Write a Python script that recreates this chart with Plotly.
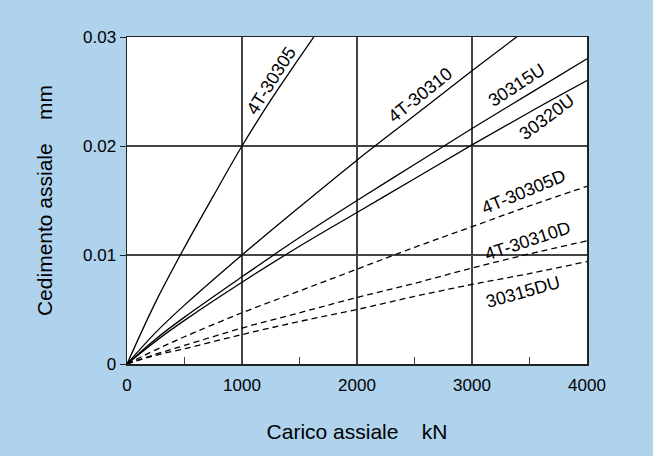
import plotly.graph_objects as go

# Axial load (kN) sample points
load_4t30305 = [0, 250, 500, 750, 1000, 1250, 1500, 1650]
defl_4t30305 = [0, 0.0057, 0.0107, 0.0154, 0.0200, 0.0242, 0.0281, 0.0304]

load_std = [0, 250, 500, 1000, 1500, 2000, 2500, 3000, 3500, 4000]
defl_4t30310 = [0, 0.0029, 0.0054, 0.0100, 0.0144, 0.0187, 0.0228, 0.0269, 0.0309, 0.0348]
defl_30315u = [0, 0.0023, 0.0043, 0.0080, 0.0116, 0.0150, 0.0183, 0.0216, 0.0248, 0.0280]
defl_30320u = [0, 0.0021, 0.0040, 0.0075, 0.0108, 0.0139, 0.0170, 0.0201, 0.0231, 0.0260]
defl_4t30305d = [0, 0.0013, 0.0025, 0.0047, 0.0067, 0.0087, 0.0107, 0.0126, 0.0145, 0.0163]
defl_4t30310d = [0, 0.0009, 0.0017, 0.0033, 0.0047, 0.0061, 0.0074, 0.0088, 0.0101, 0.0113]
defl_30315du = [0, 0.0008, 0.0014, 0.0027, 0.0039, 0.0050, 0.0062, 0.0073, 0.0083, 0.0094]

series_names = ["4T-30305", "4T-30310", "30315U", "30320U", "4T-30305D", "4T-30310D", "30315DU"]

# label placement (data coords) and angles
label_x = [1250, 2550, 3390, 3650, 3445, 3480, 3445]
label_y = [0.0260, 0.0247, 0.0256, 0.0227, 0.0158, 0.0113, 0.0066]
label_angle = [-57.6, -38.7, -33, -36.6, -22.5, -18.4, -15.6]

x_ticks = [0, 1000, 2000, 3000, 4000]
y_ticks = [0, 0.01, 0.02, 0.03]
y_tick_text = ["0", "0.01", "0.02", "0.03"]

BG = "#afd2ed"
FONT = "Liberation Sans, Arial, Helvetica, sans-serif"

fig = go.Figure()

data = [
    (load_4t30305, defl_4t30305, "solid"),
    (load_std, defl_4t30310, "solid"),
    (load_std, defl_30315u, "solid"),
    (load_std, defl_30320u, "solid"),
    (load_std, defl_4t30305d, "6px,4px"),
    (load_std, defl_4t30310d, "6px,4px"),
    (load_std, defl_30315du, "6px,4px"),
]
for (xs, ys, dash), name in zip(data, series_names):
    fig.add_trace(go.Scatter(x=xs, y=ys, mode="lines", name=name,
                             line=dict(color="black", width=1.3, dash=dash, shape="spline"),
                             showlegend=False, cliponaxis=True, hoverinfo="skip"))

for name, lx, ly, ang in zip(series_names, label_x, label_y, label_angle):
    fig.add_annotation(x=lx, y=ly, text=name, showarrow=False, textangle=ang,
                       xanchor="center", yanchor="middle",
                       font=dict(family=FONT, size=18, color="black"))

fig.update_xaxes(range=[0, 4000], tickvals=x_ticks, ticktext=[str(v) for v in x_ticks],
                 showgrid=True, gridcolor="#444", gridwidth=1.4,
                 showline=True, linecolor="#222", linewidth=1.5, mirror=True,
                 ticks="inside", ticklen=7, tickcolor="#444",
                 minor=dict(ticks="inside", ticklen=7, dtick=500, tick0=0, tickcolor="#444", showgrid=False),
                 zeroline=False, ticklabelstandoff=5,
                 tickfont=dict(family=FONT, size=17, color="black"),
                 title=dict(text="Carico assiale\u00a0\u00a0\u00a0\u00a0kN", font=dict(family=FONT, size=21, color="black"), standoff=30))
fig.update_yaxes(range=[0, 0.03], tickvals=y_ticks, ticktext=y_tick_text,
                 showgrid=True, gridcolor="#444", gridwidth=1.4,
                 showline=True, linecolor="#222", linewidth=1.5, mirror=True,
                 ticks="outside", ticklen=6, tickcolor="#222",
                 zeroline=False,
                 tickfont=dict(family=FONT, size=17, color="black"),
                 title=dict(text="Cedimento assiale\u00a0\u00a0\u00a0\u00a0mm", font=dict(family=FONT, size=21, color="black"), standoff=24))

fig.update_layout(width=653, height=456, paper_bgcolor=BG, plot_bgcolor="white",
                  margin=dict(l=127, r=66, t=37, b=92, autoexpand=False),
                  showlegend=False, hovermode=False)

fig.write_html("out.html", config={"displayModeBar": False, "staticPlot": True},
               post_script="document.body.style.margin='0';document.body.style.padding='0';document.documentElement.style.background='%s';" % BG)
